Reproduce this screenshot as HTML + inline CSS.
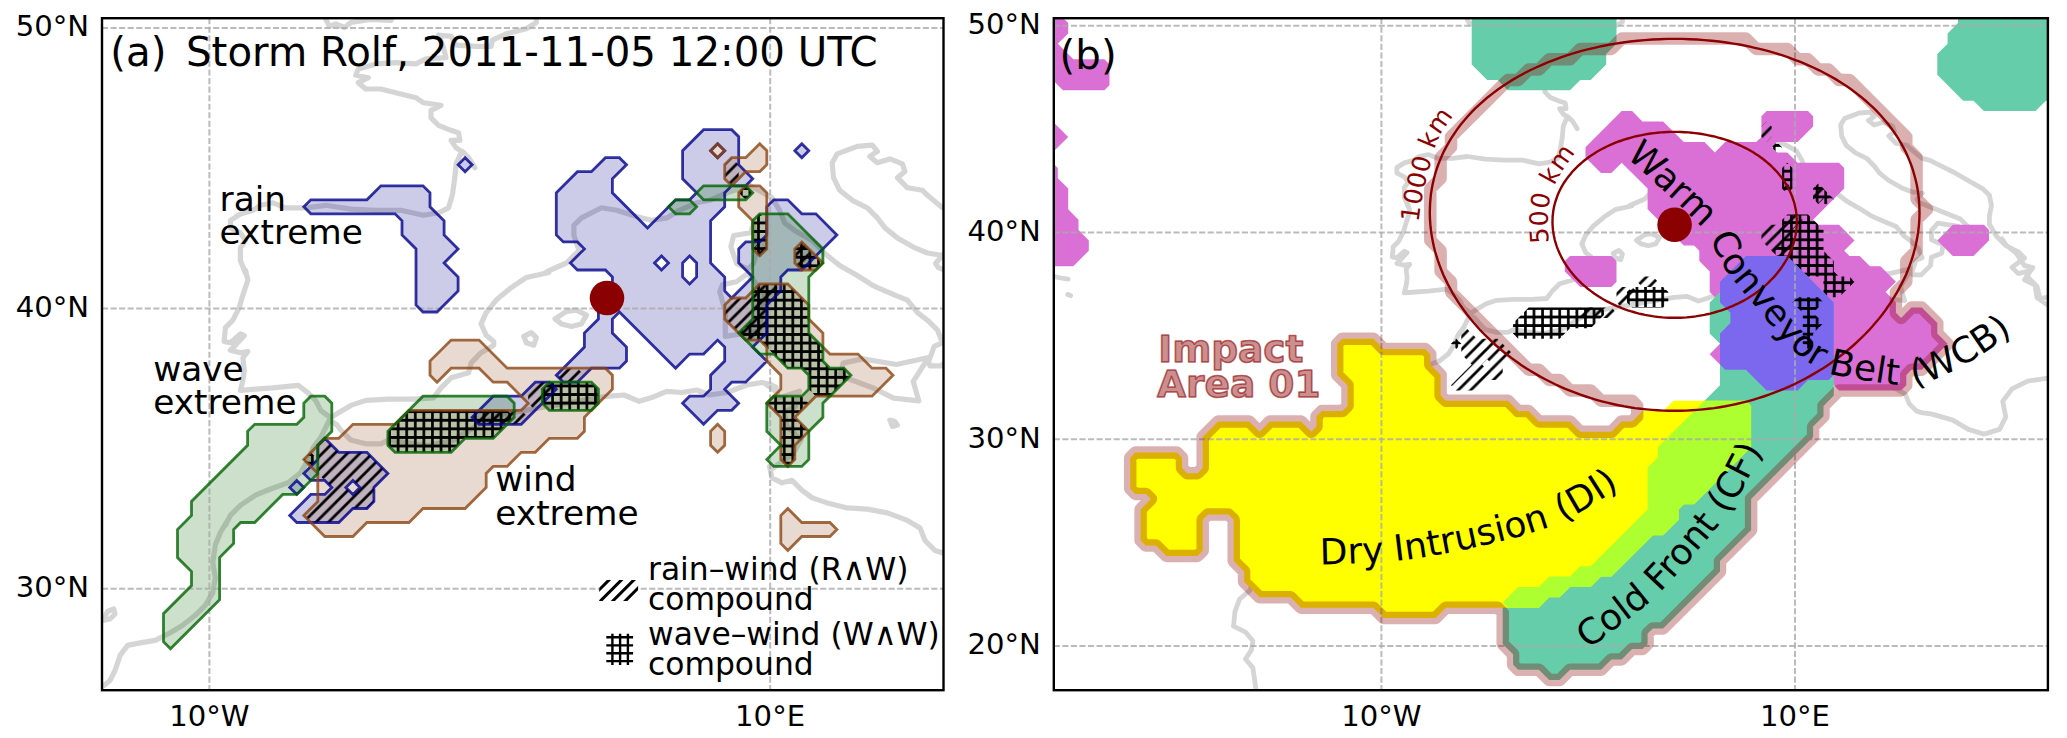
<!DOCTYPE html>
<html lang="en"><head><meta charset="utf-8"><title>Storm Rolf, 2011-11-05 12:00 UTC</title>
<style>
html,body{margin:0;padding:0;background:#fff;}
body{width:2067px;height:738px;overflow:hidden;}
svg{display:block;font-family:"DejaVu Sans", "Liberation Sans", sans-serif;}
.grid line{stroke:#aaa;stroke-opacity:.8;stroke-width:2;stroke-dasharray:6.1 2.45;fill:none}
.frame{fill:none;stroke:#000;stroke-width:2.4}
.tick{font-size:29.1px;fill:#000}
.coast{fill:none;stroke:#808080;stroke-opacity:.33;stroke-width:5.2;stroke-linejoin:round;stroke-linecap:round}

.title{font-size:40.3px;fill:#000}
.lab{font-size:34.35px;fill:#000}
.leg{font-size:31.35px;fill:#000}
.fillr{fill:#00008b;fill-opacity:.2;stroke:none;fill-rule:evenodd}
.fillw{fill:#8b4513;fill-opacity:.2;stroke:none;fill-rule:evenodd}
.fillv{fill:#006400;fill-opacity:.2;stroke:none;fill-rule:evenodd}
.liner{fill:none;stroke:#00008b;stroke-opacity:.8;stroke-width:2.8;stroke-linejoin:miter}
.linew{fill:none;stroke:#8b4513;stroke-opacity:.8;stroke-width:2.8;stroke-linejoin:miter}
.linev{fill:none;stroke:#006400;stroke-opacity:.8;stroke-width:2.8;stroke-linejoin:miter}
.hat{stroke:none;fill-rule:evenodd}
.legsym{stroke:#000;fill:none}

.coastb{stroke-width:4.8}
.wcb{fill:#da70d6;fill-rule:evenodd}
.cf{fill:#66cdaa;fill-rule:evenodd}
.di{fill:#ffff00;fill-rule:evenodd}
.wcbcf{fill:#7b68ee;fill-rule:evenodd}
.dicf{fill:#adff2f;fill-rule:evenodd}
.impact{fill:none;stroke:#8b0000;stroke-opacity:.31;stroke-width:12.5;stroke-linejoin:round}
.ring{fill:none;stroke:#8b0000;stroke-width:2.4}
.ringlab{font-size:25.3px;fill:#8b0000;letter-spacing:.4px}
.feat{font-size:36px;fill:#000}
.imp{font-size:37.5px;font-weight:bold;fill:#8b0000;fill-opacity:.45;stroke:#8b0000;stroke-opacity:.6;stroke-width:1.6;stroke-linejoin:round}
</style></head>
<body>
<svg width="2067" height="738" viewBox="0 0 2067 738">
<rect x="0" y="0" width="2067" height="738" fill="#fff"/>
<defs>
<clipPath id="clipA"><rect x="102.0" y="18.2" width="841.5" height="672.0"/></clipPath>
<clipPath id="clipB"><rect x="1053.8" y="18.2" width="994.1" height="672.0"/></clipPath>

<pattern id="hslash" patternUnits="userSpaceOnUse" width="12.5" height="12.5" x="0.7" y="0.0">
<path d="M-3.125,3.125L3.125,-3.125M0,12.5L12.5,0M9.375,15.625L15.625,9.375" stroke="#000" stroke-width="2.8" stroke-linecap="square"/>
</pattern>
<pattern id="hplus" patternUnits="userSpaceOnUse" width="8.58" height="8.58" x="-0.84" y="4.13">
<path d="M4.29,0V8.58M0,4.29H8.58" stroke="#000" stroke-width="2.65"/>
</pattern>
<pattern id="hplusB" patternUnits="userSpaceOnUse" width="8.58" height="8.58" x="2.45" y="3.85">
<path d="M4.29,0V8.58M0,4.29H8.58" stroke="#000" stroke-width="2.65"/>
</pattern>
<pattern id="hslashB" patternUnits="userSpaceOnUse" width="12.5" height="12.5" x="-1.6" y="0.0">
<path d="M-3.125,3.125L3.125,-3.125M0,12.5L12.5,0M9.375,15.625L15.625,9.375" stroke="#000" stroke-width="2.8" stroke-linecap="square"/>
</pattern>
<clipPath id="legslash"><rect x="599.2" y="579.9" width="38.9" height="21"/></clipPath>

<path id="pWCB" d="M1626.0,157.0C1632.8,163.2 1653.8,181.5 1667.0,194.0C1680.2,206.5 1695.2,219.3 1705.0,232.0C1714.8,244.7 1716.8,256.7 1726.0,270.0C1735.2,283.3 1748.8,298.7 1760.0,312.0C1771.2,325.3 1783.3,340.7 1793.0,350.0C1802.7,359.3 1811.0,363.8 1818.0,368.0C1825.0,372.2 1826.5,372.8 1835.0,375.0C1843.5,377.2 1857.8,379.3 1869.0,381.0C1880.2,382.7 1892.0,384.9 1902.0,385.0C1912.0,385.1 1917.2,385.7 1929.0,381.5C1940.8,377.3 1957.8,368.9 1973.0,360.0C1988.2,351.1 2006.8,337.5 2020.0,328.0C2033.2,318.5 2046.7,307.2 2052.0,303.0" fill="none"/>
<path id="pDI" d="M1320.2,564.5C1326.3,564.3 1343.9,564.0 1356.7,563.4C1369.5,562.8 1382.3,562.5 1397.0,560.9C1411.7,559.3 1429.3,556.4 1444.6,553.6C1459.8,550.8 1475.0,547.4 1488.5,544.2C1502.0,541.0 1514.4,537.9 1525.5,534.6C1536.6,531.3 1545.3,528.8 1555.3,524.6C1565.2,520.4 1574.7,515.4 1585.2,509.3C1595.8,503.2 1609.3,494.5 1618.6,488.3C1627.9,482.1 1637.3,474.7 1641.0,472.0" fill="none"/>
<path id="pCF" d="M1583.7,652.6C1584.7,651.9 1584.1,652.2 1589.7,648.1C1595.3,644.0 1607.0,635.4 1617.1,627.7C1627.2,620.0 1640.3,610.4 1650.1,601.7C1659.9,593.1 1667.2,585.0 1675.7,575.8C1684.2,566.5 1694.0,554.8 1701.3,546.2C1708.6,537.6 1712.9,533.2 1719.6,524.0C1726.3,514.8 1734.5,502.7 1741.5,490.7C1748.5,478.7 1756.8,461.9 1761.7,451.9C1766.6,441.9 1769.3,434.1 1770.8,430.5" fill="none"/>
<path id="p500" d="M1548.9,243.0C1548.7,239.8 1547.8,230.0 1547.8,223.8C1547.8,217.6 1547.8,211.4 1548.6,205.8C1549.4,200.2 1550.5,195.6 1552.4,190.4C1554.3,185.2 1557.1,180.1 1560.1,174.9C1563.1,169.8 1567.4,163.6 1570.4,159.5C1573.4,155.4 1576.7,152.0 1578.0,150.5" fill="none"/>
<path id="p1000" d="M1418.6,222.5C1419.0,219.3 1420.1,209.4 1421.2,203.2C1422.3,197.0 1423.5,191.6 1425.0,185.2C1426.5,178.8 1428.3,171.5 1430.2,164.6C1432.1,157.7 1434.0,150.0 1436.3,144.0C1438.6,138.0 1441.7,132.9 1444.3,128.6C1446.9,124.3 1450.7,119.8 1452.0,118.0" fill="none"/>

</defs>
<g id="panel-a">
<g clip-path="url(#clipA)">
<path class="coast" d="M321.6,11.2L329.4,26.3L335.7,23.8L344.5,27.5L350.8,22.5L370.8,19.5L390.9,20.5L394.5,11.2M536.1,11.2L536.3,22.5L526.3,28.8L506.2,33.8L492.4,40.1L491.2,46.3L476.1,46.3L456.1,45.1L451.1,36.3L438.5,35.1L443.5,47.6L446.0,57.6L426.0,58.9L415.9,63.9L395.9,62.6L375.8,63.9L358.3,68.9L355.8,75.2L368.3,77.7L358.3,82.7L365.8,89.0L380.8,89.0L400.9,94.0L415.9,97.7L423.5,102.8L441.0,105.3L431.0,110.3L431.0,117.8L438.5,125.3L451.1,130.3L458.6,132.9L459.8,140.4L451.1,140.4L456.1,147.9L462.3,151.7L461.1,152.7L456.1,163.9L454.8,177.7L452.3,195.3L448.5,207.8L438.5,212.8L423.5,215.3L400.9,210.3L375.8,210.3L350.8,209.1L325.7,205.3L305.6,207.8L285.6,207.8L273.0,202.8L260.5,205.3L253.0,210.3L240.4,214.1L230.4,220.4L230.4,227.9L240.4,232.9L245.4,240.4L240.4,247.9L240.4,260.5L245.4,273.0L245.4,270.0L247.9,280.0L242.9,295.1L239.2,307.6L232.9,320.2L225.4,327.7L224.1,341.5L230.4,342.7L240.4,333.9L244.2,335.7L235.4,345.2L230.4,350.2L240.4,352.7L247.9,351.5L242.9,357.8L244.2,370.3L242.9,380.3L240.4,390.4L255.5,389.1L273.0,387.9L285.6,386.6L298.1,385.3L308.1,392.9L315.6,400.4L320.7,410.4L330.7,417.9L338.2,412.9L350.8,405.4L365.8,400.4L388.4,399.1L413.4,399.1L433.5,397.9L441.0,387.9L451.1,377.8L468.6,372.8L471.1,362.8L481.1,352.7L493.7,345.2L493.7,341.5L486.2,335.2L481.1,323.9L486.2,312.6L496.2,300.1L511.2,287.6L526.3,277.5L548.8,272.5L546.4,271.8L566.4,263.0L579.0,250.5L573.9,235.4L573.9,225.4L581.5,217.9L601.5,207.8L616.6,210.3L636.6,216.6L651.7,220.4L666.7,217.9L679.3,210.3L696.8,202.8L709.4,200.3L726.9,192.8L749.5,185.3L772.0,197.8L779.6,210.3L784.6,222.9L794.6,230.4L812.2,240.4L827.2,255.5L839.7,265.5L857.3,275.5L872.3,285.1L877.4,287.6L894.9,295.1L907.4,300.1L917.5,312.6L927.5,320.2L937.5,330.2L942.5,342.7L934.2,346.3L928.6,361.7L930.0,365.9L941.2,365.9L953.9,353.3L955.3,342.0L969.3,336.4L970.7,325.2L955.3,318.2L955.3,305.6L963.7,295.8L991.7,300.0L994.5,309.8L1005.7,312.6L1008.5,304.2L994.5,290.2L966.5,279.0L938.4,267.7L935.6,263.5L942.6,255.1M462.3,151.4L468.6,157.7L474.9,167.7M942.5,255.5L927.5,253.0L915.0,247.9L897.4,237.9L884.9,227.9L877.4,217.9L867.3,207.8L852.3,200.3L839.7,190.3L833.5,177.7L832.2,162.7L837.2,153.9L857.3,146.4L872.3,145.1L877.4,151.4L869.8,156.4L877.4,162.7L889.9,158.9L902.4,163.9L904.9,171.5L897.4,177.7L907.4,187.8L922.5,190.3L927.5,195.3L942.5,207.8L952.5,210.3L974.9,221.5L986.1,227.1L1005.7,238.3L1025.4,249.5L1033.8,257.9L1036.6,271.9L1033.8,286.0L1033.8,297.2L1043.4,313.5L1056.0,326.1L1072.9,334.6L1081.4,343.0L1064.5,355.7L1072.9,364.2L1089.8,359.9L1081.4,372.6L1098.3,381.1L1102.5,398.0L1115.2,395.9M555.1,318.9L566.4,311.4L576.4,310.1L586.5,315.1L581.4,323.9L571.4,326.4L561.4,323.9L555.1,318.9M523.8,336.4L531.3,332.7L536.3,337.7L533.8,345.2L526.3,342.7L523.8,336.4M596.4,308.4L607.6,307.0L610.4,312.6L597.8,311.2L596.4,308.4M39.2,927.1L35.2,898.8L25.1,886.7L33.2,874.6L35.2,862.4L25.1,850.3L17.0,846.2L8.9,842.2L10.9,822.0L17.0,805.8L31.2,793.7L41.2,765.5L49.6,757.0L72.0,737.4L74.8,717.8L83.2,698.2L103.8,685.5L110.0,680.5L115.0,670.5L120.1,655.4L127.6,645.4L140.1,642.9L155.2,640.4L170.2,632.8L182.7,625.3L195.3,615.3L205.3,605.3L212.8,592.7L215.3,577.7L212.8,562.6L215.3,545.1L220.4,532.5L227.9,520.0L225.4,525.3L230.4,515.3L240.4,505.3L255.5,495.2L270.5,489.0L288.1,482.7L300.6,472.7L308.1,460.1L313.1,447.6L320.7,437.6L325.7,427.5L329.4,420.0L337.0,425.0L340.7,430.0L350.8,440.1L365.8,443.8L380.8,443.8L388.4,440.1L428.1,445.8L453.3,440.2L475.8,426.2L498.2,415.0L606.5,396.3L624.1,395.0L639.1,401.3L651.7,397.6L666.7,391.3L681.8,392.5L696.8,390.0L709.4,395.0L726.9,392.5L747.0,385.0L762.0,382.5L772.0,385.0L777.1,392.5L766.0,384.1L775.8,386.9L778.6,398.1L799.6,391.1L795.4,406.5L784.2,412.1L787.0,426.2L801.0,440.2L792.6,454.2L773.0,468.2L769.5,466.5L772.0,477.8L782.1,482.8L792.1,480.3L802.1,490.3L812.2,497.9L827.2,502.9L847.3,507.9L867.3,509.1L887.4,512.9L907.4,520.4L920.0,527.9L925.0,540.5L935.0,550.5L943.1,553.0L954.6,554.3L984.2,562.8L1005.3,575.4L1026.5,581.8L1047.6,575.4L1056.0,558.5L1051.8,537.4L1064.5,520.5L1085.6,509.9L1115.2,505.7M103.8,619.0L107.5,611.5L113.8,609.0L115.0,614.0L110.0,619.0L103.8,620.3M889.9,420.1L894.9,421.4L897.4,425.1L892.4,426.4L889.9,420.1M753.4,224.3L757.6,249.5L753.4,263.5L747.8,269.1L736.6,263.5L730.9,246.7L733.7,235.5L750.6,232.7L753.4,224.3M747.8,273.3L764.6,294.4L759.0,330.8L742.2,333.6L725.3,336.4L725.3,311.2L719.7,291.6L722.5,284.6L736.6,281.8L747.8,273.3M928.6,357.5L913.2,381.3L918.8,400.9L893.6,398.1L873.9,388.3L840.3,375.7L843.1,363.1L862.7,358.9L896.4,364.5L928.6,357.5M-235.0,367.8L-225.2,370.1L-215.4,371.8M-216.0,392.5L-212.0,393.9M1050.6,316.8L1056.2,325.2L1070.2,336.4L1081.4,353.3L1092.7,356.1L1084.2,367.3L1095.5,378.5L1098.3,396.7L1112.3,406.5L1123.5,406.5"/>
<path class="fillr" d="M703.6,129.7L731.7,129.7L738.7,136.7L738.7,164.7L752.7,178.8L745.7,185.8L731.7,185.8L724.7,192.8L724.7,206.8L710.6,220.8L710.6,262.9L724.7,277.0L724.7,291.0L731.7,298.0L752.7,277.0L738.7,262.9L738.7,248.9L745.7,241.9L759.7,241.9L766.8,234.9L766.8,206.8L773.8,199.8L787.8,199.8L801.8,213.8L815.9,213.8L836.9,234.9L801.8,270.0L787.8,270.0L780.8,277.0L780.8,291.0L766.8,305.0L766.8,333.1L752.7,347.1L766.8,361.1L745.7,382.2L731.7,382.2L724.7,389.2L738.7,403.2L731.7,410.3L717.6,410.3L703.6,424.3L682.6,403.2L689.6,396.2L703.6,396.2L710.6,389.2L710.6,375.2L724.7,361.1L724.7,347.1L717.6,340.1L703.6,354.1L689.6,354.1L675.6,368.2L619.4,312.0L612.4,319.1L612.4,333.1L626.5,347.1L626.5,361.1L619.4,368.2L591.4,368.2L577.4,382.2L563.3,382.2L556.3,375.2L584.4,347.1L584.4,333.1L598.4,319.1L598.4,305.0L612.4,291.0L612.4,277.0L605.4,270.0L577.4,270.0L570.3,262.9L584.4,248.9L577.4,241.9L563.3,241.9L556.3,234.9L556.3,192.8L577.4,171.7L591.4,171.7L605.4,157.7L619.4,157.7L626.5,164.7L612.4,178.8L612.4,192.8L647.5,227.9L675.6,199.8L689.6,199.8L696.6,192.8L682.6,178.8L682.6,150.7ZM710.6,150.7L717.6,143.7L724.7,150.7L717.6,157.7ZM794.8,150.7L801.8,143.7L808.8,150.7L801.8,157.7ZM458.1,164.7L465.1,157.7L472.1,164.7L465.1,171.7ZM380.9,185.8L423.0,185.8L430.0,192.8L430.0,206.8L444.1,220.8L444.1,234.9L458.1,248.9L444.1,262.9L458.1,277.0L458.1,291.0L437.0,312.0L423.0,312.0L416.0,305.0L416.0,248.9L402.0,234.9L402.0,220.8L395.0,213.8L310.8,213.8L303.8,206.8L310.8,199.8L366.9,199.8ZM654.5,262.9L661.5,255.9L668.5,262.9L661.5,270.0ZM682.6,262.9L689.6,255.9L696.6,262.9L696.6,277.0L689.6,284.0L682.6,277.0ZM535.3,382.2L549.3,382.2L556.3,389.2L521.2,424.3L479.1,424.3L472.1,417.3L493.2,396.2L521.2,396.2ZM317.8,445.3L324.8,438.3L338.8,452.3L366.9,452.3L387.9,473.4L373.9,487.4L373.9,501.4L366.9,508.5L352.9,508.5L338.8,522.5L296.8,522.5L289.7,515.5L310.8,494.4L324.8,494.4L331.8,487.4L324.8,480.4L310.8,480.4L303.8,473.4L317.8,459.4ZM289.7,487.4L296.8,480.4L303.8,487.4L296.8,494.4ZM345.9,487.4L352.9,480.4L359.9,487.4L352.9,494.4Z"/>
<path class="fillw" d="M710.6,150.7L717.6,143.7L724.7,150.7L717.6,157.7ZM759.7,143.7L766.8,150.7L766.8,164.7L759.7,171.7L745.7,171.7L731.7,185.8L724.7,178.8L724.7,164.7L731.7,157.7L745.7,157.7ZM738.7,192.8L745.7,185.8L759.7,185.8L766.8,192.8L766.8,248.9L759.7,255.9L752.7,248.9L752.7,220.8L738.7,206.8ZM794.8,248.9L801.8,241.9L822.9,262.9L815.9,270.0L801.8,270.0L794.8,262.9ZM759.7,284.0L787.8,284.0L808.8,305.0L808.8,319.1L822.9,333.1L822.9,347.1L829.9,354.1L858.0,354.1L872.0,368.2L886.0,368.2L893.0,375.2L872.0,396.2L815.9,396.2L794.8,417.3L808.8,431.3L794.8,445.3L794.8,459.4L787.8,466.4L780.8,459.4L780.8,417.3L766.8,403.2L780.8,389.2L780.8,375.2L766.8,361.1L766.8,347.1L759.7,340.1L745.7,340.1L724.7,319.1L724.7,305.0L731.7,298.0L745.7,298.0ZM451.1,340.1L479.1,340.1L507.2,368.2L605.4,368.2L612.4,375.2L612.4,389.2L584.4,417.3L584.4,431.3L577.4,438.3L549.3,438.3L535.3,452.3L521.2,452.3L507.2,466.4L493.2,466.4L486.2,473.4L486.2,487.4L465.1,508.5L423.0,508.5L409.0,522.5L366.9,522.5L352.9,536.5L324.8,536.5L303.8,515.5L317.8,501.4L317.8,473.4L303.8,459.4L324.8,438.3L338.8,438.3L352.9,424.3L395.0,424.3L409.0,410.3L521.2,410.3L528.2,403.2L507.2,382.2L493.2,382.2L479.1,368.2L451.1,368.2L437.0,382.2L430.0,375.2L430.0,361.1ZM710.6,431.3L717.6,424.3L724.7,431.3L724.7,445.3L717.6,452.3L710.6,445.3ZM780.8,515.5L787.8,508.5L801.8,522.5L829.9,522.5L836.9,529.5L829.9,536.5L801.8,536.5L787.8,550.6L780.8,543.5Z"/>
<path class="fillv" d="M696.6,192.8L703.6,185.8L745.7,185.8L752.7,192.8L745.7,199.8L703.6,199.8ZM668.5,206.8L675.6,199.8L689.6,199.8L696.6,206.8L689.6,213.8L675.6,213.8ZM752.7,220.8L759.7,213.8L787.8,213.8L822.9,248.9L822.9,262.9L808.8,277.0L808.8,333.1L822.9,347.1L822.9,361.1L829.9,368.2L843.9,368.2L850.9,375.2L822.9,403.2L822.9,417.3L808.8,431.3L808.8,459.4L801.8,466.4L773.8,466.4L766.8,459.4L780.8,445.3L766.8,431.3L766.8,403.2L773.8,396.2L801.8,396.2L808.8,389.2L808.8,375.2L801.8,368.2L787.8,368.2L773.8,354.1L759.7,354.1L738.7,333.1L752.7,319.1ZM542.3,389.2L549.3,382.2L591.4,382.2L598.4,389.2L598.4,403.2L591.4,410.3L549.3,410.3L542.3,403.2ZM303.8,403.2L310.8,396.2L324.8,396.2L331.8,403.2L331.8,431.3L317.8,445.3L317.8,473.4L296.8,494.4L282.7,494.4L254.7,522.5L240.6,522.5L233.6,529.5L233.6,543.5L219.6,557.6L219.6,599.7L170.5,648.8L163.5,641.7L163.5,613.7L191.5,585.6L191.5,571.6L177.5,557.6L177.5,529.5L191.5,515.5L191.5,501.4L247.6,445.3L247.6,431.3L254.7,424.3L296.8,424.3L303.8,417.3ZM423.0,396.2L507.2,396.2L514.2,403.2L514.2,417.3L493.2,438.3L465.1,438.3L451.1,452.3L395.0,452.3L387.9,445.3L387.9,431.3Z"/>
<g class="grid"><line x1="209.4" y1="18.2" x2="209.4" y2="690.2"/><line x1="770.2" y1="18.2" x2="770.2" y2="690.2"/><line x1="102.0" y1="588.8" x2="943.5" y2="588.8"/><line x1="102.0" y1="308.4" x2="943.5" y2="308.4"/><line x1="102.0" y1="28.0" x2="943.5" y2="28.0"/></g>
<path class="hat" fill="url(#hslash)" d="M724.7,164.7L731.7,157.7L738.7,164.7L738.7,178.8L731.7,185.8L724.7,178.8ZM752.7,248.9L759.7,241.9L766.8,248.9L759.7,255.9ZM794.8,248.9L801.8,241.9L808.8,248.9L808.8,262.9L801.8,270.0L794.8,262.9ZM759.7,284.0L773.8,284.0L780.8,291.0L766.8,305.0L766.8,333.1L759.7,340.1L745.7,340.1L724.7,319.1L724.7,305.0L731.7,298.0L745.7,298.0ZM556.3,375.2L563.3,368.2L577.4,368.2L584.4,375.2L577.4,382.2L563.3,382.2ZM528.2,389.2L535.3,382.2L549.3,382.2L556.3,389.2L535.3,410.3L528.2,403.2ZM472.1,417.3L479.1,410.3L521.2,410.3L528.2,417.3L521.2,424.3L479.1,424.3ZM317.8,445.3L324.8,438.3L338.8,452.3L366.9,452.3L387.9,473.4L373.9,487.4L373.9,501.4L366.9,508.5L352.9,508.5L338.8,522.5L310.8,522.5L303.8,515.5L331.8,487.4L317.8,473.4ZM345.9,487.4L352.9,480.4L359.9,487.4L352.9,494.4Z"/>
<path class="hat" fill="url(#hplus)" d="M738.7,192.8L745.7,185.8L752.7,192.8L745.7,199.8ZM752.7,220.8L759.7,213.8L766.8,220.8L766.8,248.9L759.7,255.9L752.7,248.9ZM794.8,248.9L801.8,241.9L822.9,262.9L815.9,270.0L801.8,270.0L794.8,262.9ZM752.7,291.0L759.7,284.0L787.8,284.0L808.8,305.0L808.8,333.1L822.9,347.1L822.9,361.1L829.9,368.2L843.9,368.2L850.9,375.2L829.9,396.2L815.9,396.2L808.8,389.2L808.8,375.2L801.8,368.2L787.8,368.2L759.7,340.1L745.7,340.1L738.7,333.1L752.7,319.1ZM542.3,389.2L549.3,382.2L591.4,382.2L598.4,389.2L598.4,403.2L591.4,410.3L549.3,410.3L542.3,403.2ZM766.8,403.2L773.8,396.2L801.8,396.2L808.8,403.2L794.8,417.3L808.8,431.3L794.8,445.3L794.8,459.4L787.8,466.4L780.8,459.4L780.8,417.3ZM409.0,410.3L507.2,410.3L514.2,417.3L493.2,438.3L465.1,438.3L451.1,452.3L395.0,452.3L387.9,445.3L387.9,431.3ZM303.8,459.4L310.8,452.3L317.8,459.4L310.8,466.4Z"/>
<path class="liner" d="M703.6,129.7L731.7,129.7L738.7,136.7L738.7,164.7L752.7,178.8L745.7,185.8L731.7,185.8L724.7,192.8L724.7,206.8L710.6,220.8L710.6,262.9L724.7,277.0L724.7,291.0L731.7,298.0L752.7,277.0L738.7,262.9L738.7,248.9L745.7,241.9L759.7,241.9L766.8,234.9L766.8,206.8L773.8,199.8L787.8,199.8L801.8,213.8L815.9,213.8L836.9,234.9L801.8,270.0L787.8,270.0L780.8,277.0L780.8,291.0L766.8,305.0L766.8,333.1L752.7,347.1L766.8,361.1L745.7,382.2L731.7,382.2L724.7,389.2L738.7,403.2L731.7,410.3L717.6,410.3L703.6,424.3L682.6,403.2L689.6,396.2L703.6,396.2L710.6,389.2L710.6,375.2L724.7,361.1L724.7,347.1L717.6,340.1L703.6,354.1L689.6,354.1L675.6,368.2L619.4,312.0L612.4,319.1L612.4,333.1L626.5,347.1L626.5,361.1L619.4,368.2L591.4,368.2L577.4,382.2L563.3,382.2L556.3,375.2L584.4,347.1L584.4,333.1L598.4,319.1L598.4,305.0L612.4,291.0L612.4,277.0L605.4,270.0L577.4,270.0L570.3,262.9L584.4,248.9L577.4,241.9L563.3,241.9L556.3,234.9L556.3,192.8L577.4,171.7L591.4,171.7L605.4,157.7L619.4,157.7L626.5,164.7L612.4,178.8L612.4,192.8L647.5,227.9L675.6,199.8L689.6,199.8L696.6,192.8L682.6,178.8L682.6,150.7ZM710.6,150.7L717.6,143.7L724.7,150.7L717.6,157.7ZM794.8,150.7L801.8,143.7L808.8,150.7L801.8,157.7ZM458.1,164.7L465.1,157.7L472.1,164.7L465.1,171.7ZM380.9,185.8L423.0,185.8L430.0,192.8L430.0,206.8L444.1,220.8L444.1,234.9L458.1,248.9L444.1,262.9L458.1,277.0L458.1,291.0L437.0,312.0L423.0,312.0L416.0,305.0L416.0,248.9L402.0,234.9L402.0,220.8L395.0,213.8L310.8,213.8L303.8,206.8L310.8,199.8L366.9,199.8ZM654.5,262.9L661.5,255.9L668.5,262.9L661.5,270.0ZM682.6,262.9L689.6,255.9L696.6,262.9L696.6,277.0L689.6,284.0L682.6,277.0ZM535.3,382.2L549.3,382.2L556.3,389.2L521.2,424.3L479.1,424.3L472.1,417.3L493.2,396.2L521.2,396.2ZM317.8,445.3L324.8,438.3L338.8,452.3L366.9,452.3L387.9,473.4L373.9,487.4L373.9,501.4L366.9,508.5L352.9,508.5L338.8,522.5L296.8,522.5L289.7,515.5L310.8,494.4L324.8,494.4L331.8,487.4L324.8,480.4L310.8,480.4L303.8,473.4L317.8,459.4ZM289.7,487.4L296.8,480.4L303.8,487.4L296.8,494.4ZM345.9,487.4L352.9,480.4L359.9,487.4L352.9,494.4Z"/>
<path class="linew" d="M710.6,150.7L717.6,143.7L724.7,150.7L717.6,157.7ZM759.7,143.7L766.8,150.7L766.8,164.7L759.7,171.7L745.7,171.7L731.7,185.8L724.7,178.8L724.7,164.7L731.7,157.7L745.7,157.7ZM738.7,192.8L745.7,185.8L759.7,185.8L766.8,192.8L766.8,248.9L759.7,255.9L752.7,248.9L752.7,220.8L738.7,206.8ZM794.8,248.9L801.8,241.9L822.9,262.9L815.9,270.0L801.8,270.0L794.8,262.9ZM759.7,284.0L787.8,284.0L808.8,305.0L808.8,319.1L822.9,333.1L822.9,347.1L829.9,354.1L858.0,354.1L872.0,368.2L886.0,368.2L893.0,375.2L872.0,396.2L815.9,396.2L794.8,417.3L808.8,431.3L794.8,445.3L794.8,459.4L787.8,466.4L780.8,459.4L780.8,417.3L766.8,403.2L780.8,389.2L780.8,375.2L766.8,361.1L766.8,347.1L759.7,340.1L745.7,340.1L724.7,319.1L724.7,305.0L731.7,298.0L745.7,298.0ZM451.1,340.1L479.1,340.1L507.2,368.2L605.4,368.2L612.4,375.2L612.4,389.2L584.4,417.3L584.4,431.3L577.4,438.3L549.3,438.3L535.3,452.3L521.2,452.3L507.2,466.4L493.2,466.4L486.2,473.4L486.2,487.4L465.1,508.5L423.0,508.5L409.0,522.5L366.9,522.5L352.9,536.5L324.8,536.5L303.8,515.5L317.8,501.4L317.8,473.4L303.8,459.4L324.8,438.3L338.8,438.3L352.9,424.3L395.0,424.3L409.0,410.3L521.2,410.3L528.2,403.2L507.2,382.2L493.2,382.2L479.1,368.2L451.1,368.2L437.0,382.2L430.0,375.2L430.0,361.1ZM710.6,431.3L717.6,424.3L724.7,431.3L724.7,445.3L717.6,452.3L710.6,445.3ZM780.8,515.5L787.8,508.5L801.8,522.5L829.9,522.5L836.9,529.5L829.9,536.5L801.8,536.5L787.8,550.6L780.8,543.5Z"/>
<path class="linev" d="M696.6,192.8L703.6,185.8L745.7,185.8L752.7,192.8L745.7,199.8L703.6,199.8ZM668.5,206.8L675.6,199.8L689.6,199.8L696.6,206.8L689.6,213.8L675.6,213.8ZM752.7,220.8L759.7,213.8L787.8,213.8L822.9,248.9L822.9,262.9L808.8,277.0L808.8,333.1L822.9,347.1L822.9,361.1L829.9,368.2L843.9,368.2L850.9,375.2L822.9,403.2L822.9,417.3L808.8,431.3L808.8,459.4L801.8,466.4L773.8,466.4L766.8,459.4L780.8,445.3L766.8,431.3L766.8,403.2L773.8,396.2L801.8,396.2L808.8,389.2L808.8,375.2L801.8,368.2L787.8,368.2L773.8,354.1L759.7,354.1L738.7,333.1L752.7,319.1ZM542.3,389.2L549.3,382.2L591.4,382.2L598.4,389.2L598.4,403.2L591.4,410.3L549.3,410.3L542.3,403.2ZM303.8,403.2L310.8,396.2L324.8,396.2L331.8,403.2L331.8,431.3L317.8,445.3L317.8,473.4L296.8,494.4L282.7,494.4L254.7,522.5L240.6,522.5L233.6,529.5L233.6,543.5L219.6,557.6L219.6,599.7L170.5,648.8L163.5,641.7L163.5,613.7L191.5,585.6L191.5,571.6L177.5,557.6L177.5,529.5L191.5,515.5L191.5,501.4L247.6,445.3L247.6,431.3L254.7,424.3L296.8,424.3L303.8,417.3ZM423.0,396.2L507.2,396.2L514.2,403.2L514.2,417.3L493.2,438.3L465.1,438.3L451.1,452.3L395.0,452.3L387.9,445.3L387.9,431.3Z"/>
<circle cx="607" cy="298" r="17.3" fill="#8b0000"/>
<text class="title" x="110.3" y="66">(a)</text>
<text class="title" x="186" y="66">Storm Rolf, 2011-11-05 12:00 UTC</text>
<text class="lab" x="219.6" y="211">rain</text>
<text class="lab" x="219.6" y="244.3">extreme</text>
<text class="lab" x="153.2" y="381.1">wave</text>
<text class="lab" x="153.2" y="413.8">extreme</text>
<text class="lab" x="495.3" y="491.4">wind</text>
<text class="lab" x="495.3" y="524.9">extreme</text>
<rect x="599.2" y="579.9" width="38.9" height="21" fill="#fff"/>
<g clip-path="url(#legslash)"><path class="legsym" stroke-width="3" d="M580,609L620,569M592.4,609L632.4,569M604.8,609L644.8,569M617.2,609L657.2,569"/></g>
<path class="legsym" stroke-width="2.4" d="M612.4,633.7V664.9M620.1,633.7V664.9M627.9,633.7V664.9M606.3,637.3H633.1M606.3,645.4H633.1M606.3,653.3H633.1M606.3,661.1H633.1"/>
<text class="leg" x="648" y="580.4">rain–wind (R∧W)</text>
<text class="leg" x="648" y="610.3">compound</text>
<text class="leg" x="648" y="644.8">wave–wind (W∧W)</text>
<text class="leg" x="648" y="674.8">compound</text>

</g>
<rect class="frame" x="102.0" y="18.2" width="841.5" height="672.0"/>
<text class="tick" text-anchor="end" x="89.1" y="36.2">50°N</text><text class="tick" text-anchor="end" x="89.1" y="316.6">40°N</text><text class="tick" text-anchor="end" x="89.1" y="597.0">30°N</text><text class="tick" text-anchor="middle" x="209.3" y="726.4">10°W</text><text class="tick" text-anchor="middle" x="770.1" y="726.4">10°E</text>
</g>
<g id="panel-b">
<g clip-path="url(#clipB)">
<path class="coast coastb" d="M1464.1,13.3L1469.9,24.4L1474.6,22.6L1481.0,25.4L1485.6,21.7L1500.4,19.4L1515.2,20.2L1517.9,13.3M1622.3,13.3L1622.5,21.7L1615.1,26.3L1600.3,30.0L1590.1,34.6L1589.2,39.2L1578.1,39.2L1563.3,38.3L1559.6,31.8L1550.4,30.9L1554.1,40.2L1555.9,47.6L1541.1,48.5L1533.7,52.2L1518.9,51.2L1504.1,52.2L1491.2,55.9L1489.3,60.5L1498.6,62.3L1491.2,66.0L1496.7,70.7L1507.8,70.7L1522.6,74.4L1533.7,77.1L1539.3,80.8L1552.2,82.7L1544.8,86.4L1544.8,91.9L1550.4,97.5L1559.6,101.2L1565.2,103.0L1566.1,108.6L1559.6,108.6L1563.3,114.1L1567.9,116.9L1567.0,117.6L1563.3,126.0L1562.4,136.1L1560.5,149.1L1557.8,158.3L1550.4,162.0L1539.3,163.9L1522.6,160.2L1504.1,160.2L1485.6,159.2L1467.2,156.5L1452.4,158.3L1437.6,158.3L1428.3,154.6L1419.1,156.5L1413.5,160.2L1404.3,162.9L1396.9,167.6L1396.9,173.1L1404.3,176.8L1408.0,182.4L1404.3,187.9L1404.3,197.2L1408.0,206.4L1408.0,204.2L1409.8,211.6L1406.1,222.7L1403.4,231.9L1398.7,241.2L1393.2,246.7L1392.3,256.9L1396.9,257.8L1404.3,251.3L1407.1,252.6L1400.6,259.7L1396.9,263.4L1404.3,265.2L1409.8,264.3L1406.1,268.9L1407.1,278.2L1406.1,285.6L1404.3,292.9L1415.4,292.0L1428.3,291.1L1437.6,290.2L1446.8,289.2L1454.2,294.8L1459.8,300.3L1463.5,307.7L1470.9,313.3L1476.4,309.6L1485.6,304.0L1496.7,300.3L1513.4,299.4L1531.9,299.4L1546.7,298.5L1552.2,291.1L1559.6,283.7L1572.6,280.0L1574.4,272.6L1581.8,265.2L1591.1,259.7L1591.1,256.9L1585.5,252.3L1581.8,243.9L1585.5,235.6L1592.9,226.4L1604.0,217.1L1615.1,209.7L1631.7,206.0L1629.9,205.5L1644.7,199.0L1654.0,189.8L1650.3,178.7L1650.3,171.3L1655.8,165.7L1670.6,158.3L1681.7,160.2L1696.5,164.8L1707.6,167.6L1718.7,165.7L1727.9,160.2L1740.9,154.6L1750.1,152.8L1763.1,147.2L1779.7,141.7L1796.4,150.9L1801.9,160.2L1805.6,169.4L1813.0,175.0L1825.9,182.4L1837.0,193.5L1846.3,200.9L1859.2,208.3L1870.3,215.3L1874.0,217.1L1887.0,222.7L1896.2,226.4L1903.6,235.6L1911.0,241.2L1918.4,248.6L1922.1,257.8L1916.0,260.4L1911.8,271.8L1912.9,274.9L1921.1,274.9L1930.5,265.6L1931.5,257.3L1941.8,253.2L1942.9,244.9L1931.5,239.7L1931.5,230.4L1937.7,223.2L1958.4,226.3L1960.4,233.5L1968.7,235.6L1970.8,229.4L1960.4,219.1L1939.8,210.8L1919.1,202.5L1917.0,199.4L1922.2,193.2M1567.9,116.7L1572.6,121.3L1577.2,128.7M1922.1,193.5L1911.0,191.6L1901.8,187.9L1888.8,180.5L1879.6,173.1L1874.0,165.7L1866.6,158.3L1855.5,152.8L1846.3,145.4L1841.7,136.1L1840.7,125.0L1844.4,118.6L1859.2,113.0L1870.3,112.1L1874.0,116.7L1868.5,120.4L1874.0,125.0L1883.3,122.3L1892.5,126.0L1894.4,131.5L1888.8,136.1L1896.2,143.5L1907.3,145.4L1911.0,149.1L1922.1,158.3L1929.4,160.1L1946.0,168.4L1954.2,172.5L1968.7,180.8L1983.2,189.1L1989.4,195.3L1991.5,205.6L1989.4,216.0L1989.4,224.2L1996.5,236.2L2005.8,245.6L2018.3,251.8L2024.5,258.0L2012.0,267.4L2018.3,273.6L2030.7,270.5L2024.5,279.9L2037.0,286.1L2040.1,298.6L2049.4,297.0M1636.4,240.2L1644.7,234.7L1652.1,233.8L1659.5,237.5L1655.8,243.9L1648.4,245.8L1641.0,243.9L1636.4,240.2M1613.3,253.2L1618.8,250.4L1622.5,254.1L1620.7,259.7L1615.1,257.8L1613.3,253.2M1666.8,232.5L1675.1,231.5L1677.1,235.6L1667.8,234.6L1666.8,232.5M1255.9,688.8L1252.9,667.9L1245.5,659.0L1251.4,650.0L1252.9,641.1L1245.5,632.1L1239.5,629.2L1233.5,626.2L1235.0,611.3L1239.5,599.3L1249.9,590.4L1257.3,569.6L1263.5,563.4L1280.1,548.9L1282.1,534.4L1288.3,520.0L1303.5,510.6L1308.1,506.9L1311.8,499.5L1315.5,488.4L1321.1,481.0L1330.3,479.2L1341.4,477.3L1352.5,471.8L1361.7,466.2L1371.0,458.8L1378.4,451.4L1383.9,442.2L1385.8,431.1L1383.9,420.0L1385.8,407.1L1389.5,397.8L1395.0,388.6L1393.2,392.5L1396.9,385.1L1404.3,377.7L1415.4,370.3L1426.5,365.7L1439.4,361.0L1448.7,353.6L1454.2,344.4L1457.9,335.1L1463.5,327.8L1467.2,320.4L1469.9,314.8L1475.5,318.5L1478.3,322.2L1485.6,329.6L1496.7,332.4L1507.8,332.4L1513.4,329.6L1542.7,333.8L1561.3,329.7L1577.9,319.4L1594.4,311.1L1674.3,297.3L1687.2,296.4L1698.3,301.0L1707.6,298.3L1718.7,293.6L1729.8,294.6L1740.9,292.7L1750.1,296.4L1763.1,294.6L1777.9,289.0L1789.0,287.2L1796.4,289.0L1800.1,294.6L1791.9,288.3L1799.1,290.4L1801.2,298.7L1816.7,293.5L1813.6,304.9L1805.3,309.0L1807.4,319.4L1817.7,329.7L1811.5,340.0L1797.1,350.4L1794.5,349.1L1796.4,357.4L1803.8,361.1L1811.2,359.3L1818.5,366.7L1825.9,372.2L1837.0,375.9L1851.8,379.6L1866.6,380.5L1881.4,383.3L1896.2,388.9L1905.5,394.4L1909.2,403.7L1916.6,411.1L1922.5,412.9L1931.0,413.9L1952.8,420.1L1968.4,429.4L1984.0,434.1L1999.6,429.4L2005.8,417.0L2002.7,401.4L2012.0,388.9L2027.6,381.1L2049.4,378.0M1303.5,461.6L1306.3,456.1L1310.9,454.2L1311.8,457.9L1308.1,461.6L1303.5,462.5M1883.3,314.9L1887.0,315.8L1888.8,318.6L1885.1,319.5L1883.3,314.9M1782.6,170.5L1785.7,189.1L1782.6,199.4L1778.5,203.5L1770.2,199.4L1766.0,187.0L1768.1,178.7L1780.5,176.7L1782.6,170.5M1778.5,206.7L1790.9,222.2L1786.7,249.0L1774.3,251.1L1761.9,253.2L1761.9,234.6L1757.8,220.1L1759.8,214.9L1770.2,212.9L1778.5,206.7M1911.8,268.7L1900.5,286.3L1904.6,300.7L1886.0,298.7L1871.5,291.4L1846.7,282.1L1848.8,272.8L1863.2,269.7L1888.1,273.9L1911.8,268.7M1053.6,276.3L1060.9,278.0L1068.1,279.2M1067.7,294.5L1070.6,295.6M2001.8,238.7L2005.9,244.9L2016.3,253.2L2024.5,265.6L2032.8,267.7L2026.6,275.9L2034.9,284.2L2037.0,297.6L2047.3,304.9L2055.6,304.9"/>
<path class="wcb" d="M1047.5,23.1L1052.6,17.9L1063.0,17.9L1068.2,23.1L1068.2,33.4L1057.8,43.8L1073.3,59.3L1104.4,59.3L1109.5,64.5L1109.5,85.2L1104.4,90.3L1063.0,90.3L1047.5,74.8ZM1621.7,111.0L1632.1,111.0L1642.4,121.4L1663.1,121.4L1683.8,142.1L1704.5,142.1L1714.8,152.4L1725.2,142.1L1756.2,142.1L1761.4,136.9L1761.4,116.2L1766.6,111.0L1808.0,111.0L1813.1,116.2L1813.1,126.5L1797.6,142.1L1776.9,142.1L1771.7,147.2L1776.9,152.4L1787.3,152.4L1797.6,162.8L1839.0,162.8L1844.2,167.9L1844.2,188.6L1813.1,219.7L1818.3,224.8L1839.0,224.8L1854.5,240.4L1844.2,250.7L1849.4,255.9L1859.7,255.9L1870.0,266.2L1880.4,266.2L1895.9,281.7L1885.6,292.1L1895.9,302.4L1895.9,312.8L1901.1,318.0L1911.4,307.6L1921.8,307.6L1937.3,323.1L1937.3,333.5L1947.6,343.8L1921.8,369.7L1911.4,369.7L1906.3,374.9L1906.3,385.2L1901.1,390.4L1839.0,390.4L1828.7,380.0L1808.0,380.0L1797.6,390.4L1766.6,390.4L1745.9,369.7L1725.2,369.7L1709.7,354.2L1720.0,343.8L1720.0,333.5L1730.4,323.1L1730.4,312.8L1709.7,292.1L1709.7,271.4L1699.3,261.1L1699.3,250.7L1694.1,245.5L1683.8,245.5L1647.6,209.3L1647.6,188.6L1621.7,162.8L1611.4,173.1L1601.0,173.1L1585.5,157.6L1585.5,147.2ZM1047.5,126.5L1052.6,121.4L1068.2,136.9L1052.6,152.4L1047.5,147.2ZM1047.5,167.9L1052.6,162.8L1057.8,167.9L1057.8,178.3L1068.2,188.6L1068.2,209.3L1078.5,219.7L1078.5,230.0L1088.8,240.4L1088.8,250.7L1073.3,266.2L1052.6,266.2L1047.5,261.1ZM1952.8,224.8L1983.9,224.8L1989.0,230.0L1989.0,240.4L1973.5,255.9L1952.8,255.9L1937.3,240.4ZM1564.8,261.1L1570.0,255.9L1611.4,255.9L1616.5,261.1L1616.5,281.7L1611.4,286.9L1580.3,286.9L1564.8,271.4Z"/>
<path class="cf" d="M1471.7,12.7L1476.9,7.5L1611.4,7.5L1616.5,12.7L1616.5,43.8L1606.2,54.1L1606.2,64.5L1590.7,80.0L1580.3,80.0L1570.0,90.3L1507.9,90.3L1497.6,80.0L1487.2,80.0L1471.7,64.5ZM1958.0,12.7L1963.2,7.5L2056.3,7.5L2061.5,12.7L2061.5,95.5L2056.3,100.7L2045.9,100.7L2035.6,111.0L1983.9,111.0L1973.5,100.7L1963.2,100.7L1937.3,74.8L1937.3,54.1L1947.6,43.8L1947.6,33.4L1958.0,23.1ZM1745.9,255.9L1787.3,255.9L1833.8,302.4L1833.8,395.6L1823.5,405.9L1823.5,416.3L1813.1,426.6L1813.1,436.9L1751.1,499.0L1751.1,530.1L1720.0,561.1L1720.0,571.5L1663.1,628.4L1652.8,628.4L1647.6,633.5L1647.6,643.9L1642.4,649.1L1632.1,649.1L1621.7,659.4L1611.4,659.4L1601.0,669.8L1570.0,669.8L1559.6,680.1L1549.3,680.1L1538.9,669.8L1518.2,669.8L1513.1,664.6L1513.1,654.2L1502.7,643.9L1502.7,602.5L1518.2,587.0L1538.9,587.0L1549.3,576.6L1570.0,576.6L1580.3,566.3L1590.7,566.3L1647.6,509.4L1647.6,468.0L1657.9,457.6L1657.9,447.3L1720.0,385.2L1720.0,343.8L1709.7,333.5L1709.7,302.4L1720.0,292.1L1720.0,281.7Z"/>
<path class="di" d="M1337.2,343.8L1342.3,338.7L1373.4,338.7L1383.7,349.0L1425.1,349.0L1430.3,354.2L1430.3,364.5L1440.6,374.9L1440.6,395.6L1445.8,400.7L1507.9,400.7L1518.2,411.1L1528.6,411.1L1538.9,421.4L1570.0,421.4L1580.3,431.8L1611.4,431.8L1621.7,421.4L1632.1,421.4L1642.4,411.1L1663.1,411.1L1673.5,400.7L1745.9,400.7L1751.1,405.9L1751.1,447.3L1694.1,504.2L1683.8,504.2L1678.6,509.4L1678.6,519.7L1663.1,535.2L1652.8,535.2L1611.4,576.6L1601.0,576.6L1590.7,587.0L1570.0,587.0L1559.6,597.3L1549.3,597.3L1538.9,607.7L1445.8,607.7L1435.5,618.0L1383.7,618.0L1373.4,607.7L1301.0,607.7L1290.6,597.3L1259.6,597.3L1244.1,581.8L1244.1,571.5L1233.7,561.1L1233.7,519.7L1228.5,514.6L1207.8,514.6L1202.7,519.7L1202.7,550.8L1197.5,555.9L1166.4,555.9L1156.1,545.6L1145.8,545.6L1140.6,540.4L1140.6,509.4L1150.9,499.0L1145.8,493.9L1135.4,493.9L1130.2,488.7L1130.2,457.6L1135.4,452.5L1176.8,452.5L1182.0,457.6L1182.0,468.0L1187.1,473.2L1197.5,473.2L1202.7,468.0L1202.7,436.9L1218.2,421.4L1249.2,421.4L1259.6,431.8L1269.9,421.4L1301.0,421.4L1311.3,431.8L1316.5,426.6L1316.5,416.3L1321.7,411.1L1342.3,411.1L1347.5,405.9L1347.5,385.2L1337.2,374.9Z"/>
<path class="wcbcf" d="M1745.9,255.9L1787.3,255.9L1833.8,302.4L1833.8,374.9L1828.7,380.0L1808.0,380.0L1797.6,390.4L1766.6,390.4L1745.9,369.7L1725.2,369.7L1720.0,364.5L1720.0,333.5L1730.4,323.1L1730.4,312.8L1720.0,302.4L1720.0,281.7Z"/>
<path class="dicf" d="M1704.5,400.7L1745.9,400.7L1751.1,405.9L1751.1,447.3L1694.1,504.2L1683.8,504.2L1678.6,509.4L1678.6,519.7L1663.1,535.2L1652.8,535.2L1611.4,576.6L1601.0,576.6L1590.7,587.0L1570.0,587.0L1559.6,597.3L1549.3,597.3L1538.9,607.7L1507.9,607.7L1502.7,602.5L1518.2,587.0L1538.9,587.0L1549.3,576.6L1570.0,576.6L1580.3,566.3L1590.7,566.3L1647.6,509.4L1647.6,468.0L1657.9,457.6L1657.9,447.3Z"/>
<g class="grid"><line x1="1381.4" y1="18.2" x2="1381.4" y2="690.2"/><line x1="1795.0" y1="18.2" x2="1795.0" y2="690.2"/><line x1="1053.8" y1="646.1" x2="2047.9" y2="646.1"/><line x1="1053.8" y1="439.3" x2="2047.9" y2="439.3"/><line x1="1053.8" y1="232.5" x2="2047.9" y2="232.5"/><line x1="1053.8" y1="25.7" x2="2047.9" y2="25.7"/></g>
<path class="impact" d="M1621.7,38.6L1745.9,38.6L1756.2,48.9L1787.3,48.9L1797.6,59.3L1808.0,59.3L1818.3,69.6L1828.7,69.6L1839.0,80.0L1849.4,80.0L1906.3,136.9L1906.3,147.2L1916.6,157.6L1916.6,199.0L1927.0,209.3L1916.6,219.7L1916.6,250.7L1906.3,261.1L1906.3,281.7L1895.9,292.1L1895.9,312.8L1901.1,318.0L1911.4,307.6L1921.8,307.6L1937.3,323.1L1937.3,333.5L1947.6,343.8L1921.8,369.7L1911.4,369.7L1906.3,374.9L1906.3,385.2L1901.1,390.4L1839.0,390.4L1823.5,405.9L1823.5,416.3L1813.1,426.6L1813.1,436.9L1751.1,499.0L1751.1,530.1L1720.0,561.1L1720.0,571.5L1663.1,628.4L1652.8,628.4L1647.6,633.5L1647.6,643.9L1642.4,649.1L1632.1,649.1L1621.7,659.4L1611.4,659.4L1601.0,669.8L1570.0,669.8L1559.6,680.1L1549.3,680.1L1538.9,669.8L1518.2,669.8L1513.1,664.6L1513.1,654.2L1502.7,643.9L1502.7,612.8L1497.6,607.7L1445.8,607.7L1435.5,618.0L1383.7,618.0L1373.4,607.7L1301.0,607.7L1290.6,597.3L1259.6,597.3L1244.1,581.8L1244.1,571.5L1233.7,561.1L1233.7,519.7L1228.5,514.6L1207.8,514.6L1202.7,519.7L1202.7,550.8L1197.5,555.9L1166.4,555.9L1156.1,545.6L1145.8,545.6L1140.6,540.4L1140.6,509.4L1150.9,499.0L1145.8,493.9L1135.4,493.9L1130.2,488.7L1130.2,457.6L1135.4,452.5L1176.8,452.5L1182.0,457.6L1182.0,468.0L1187.1,473.2L1197.5,473.2L1202.7,468.0L1202.7,436.9L1218.2,421.4L1249.2,421.4L1259.6,431.8L1269.9,421.4L1301.0,421.4L1311.3,431.8L1316.5,426.6L1316.5,416.3L1321.7,411.1L1342.3,411.1L1347.5,405.9L1347.5,385.2L1337.2,374.9L1337.2,343.8L1342.3,338.7L1373.4,338.7L1383.7,349.0L1425.1,349.0L1430.3,354.2L1430.3,364.5L1440.6,374.9L1440.6,395.6L1445.8,400.7L1507.9,400.7L1518.2,411.1L1528.6,411.1L1538.9,421.4L1570.0,421.4L1580.3,431.8L1611.4,431.8L1621.7,421.4L1632.1,421.4L1637.2,416.3L1637.2,405.9L1632.1,400.7L1601.0,400.7L1590.7,390.4L1570.0,390.4L1559.6,380.0L1549.3,380.0L1538.9,369.7L1528.6,369.7L1451.0,292.1L1451.0,281.7L1440.6,271.4L1440.6,250.7L1430.3,240.4L1430.3,188.6L1440.6,178.3L1440.6,157.6L1451.0,147.2L1451.0,136.9L1507.9,80.0L1518.2,80.0L1528.6,69.6L1538.9,69.6L1549.3,59.3L1570.0,59.3L1580.3,48.9L1611.4,48.9Z"/>
<path class="hat" fill="url(#hslashB)" d="M1761.4,126.5L1766.6,121.4L1771.7,126.5L1771.7,136.9L1766.6,142.1L1761.4,136.9ZM1782.1,188.6L1787.3,183.4L1792.4,188.6L1787.3,193.8ZM1813.1,188.6L1818.3,183.4L1823.5,188.6L1823.5,199.0L1818.3,204.1L1813.1,199.0ZM1787.3,214.5L1797.6,214.5L1802.8,219.7L1792.4,230.0L1792.4,250.7L1787.3,255.9L1776.9,255.9L1761.4,240.4L1761.4,230.0L1766.6,224.8L1776.9,224.8ZM1637.2,281.7L1642.4,276.6L1652.8,276.6L1657.9,281.7L1652.8,286.9L1642.4,286.9ZM1616.5,292.1L1621.7,286.9L1632.1,286.9L1637.2,292.1L1621.7,307.6L1616.5,302.4ZM1575.2,312.8L1580.3,307.6L1611.4,307.6L1616.5,312.8L1611.4,318.0L1580.3,318.0ZM1461.3,333.5L1466.5,328.3L1476.9,338.7L1497.6,338.7L1513.1,354.2L1502.7,364.5L1502.7,374.9L1497.6,380.0L1487.2,380.0L1476.9,390.4L1456.2,390.4L1451.0,385.2L1471.7,364.5L1461.3,354.2ZM1482.0,364.5L1487.2,359.3L1492.4,364.5L1487.2,369.7Z"/>
<path class="hat" fill="url(#hplusB)" d="M1771.7,147.2L1776.9,142.1L1782.1,147.2L1776.9,152.4ZM1782.1,167.9L1787.3,162.8L1792.4,167.9L1792.4,188.6L1787.3,193.8L1782.1,188.6ZM1813.1,188.6L1818.3,183.4L1833.8,199.0L1828.7,204.1L1818.3,204.1L1813.1,199.0ZM1782.1,219.7L1787.3,214.5L1808.0,214.5L1823.5,230.0L1823.5,250.7L1833.8,261.1L1833.8,271.4L1839.0,276.6L1849.4,276.6L1854.5,281.7L1839.0,297.3L1828.7,297.3L1823.5,292.1L1823.5,281.7L1818.3,276.6L1808.0,276.6L1787.3,255.9L1776.9,255.9L1771.7,250.7L1782.1,240.4ZM1626.9,292.1L1632.1,286.9L1663.1,286.9L1668.3,292.1L1668.3,302.4L1663.1,307.6L1632.1,307.6L1626.9,302.4ZM1792.4,302.4L1797.6,297.3L1818.3,297.3L1823.5,302.4L1813.1,312.8L1823.5,323.1L1813.1,333.5L1813.1,343.8L1808.0,349.0L1802.8,343.8L1802.8,312.8ZM1528.6,307.6L1601.0,307.6L1606.2,312.8L1590.7,328.3L1570.0,328.3L1559.6,338.7L1518.2,338.7L1513.1,333.5L1513.1,323.1ZM1451.0,343.8L1456.2,338.7L1461.3,343.8L1456.2,349.0Z"/>
<path class="ring" d="M1674.6,131.9L1678.1,131.9L1681.5,132.0L1684.9,132.2L1688.3,132.4L1691.7,132.7L1695.1,133.1L1698.5,133.5L1701.8,134.0L1705.2,134.6L1708.5,135.3L1711.7,136.0L1715.0,136.7L1718.2,137.6L1721.4,138.5L1724.5,139.4L1727.6,140.5L1730.6,141.5L1733.6,142.7L1736.6,143.9L1739.5,145.2L1742.3,146.5L1745.1,147.9L1747.9,149.3L1750.5,150.8L1753.2,152.3L1755.7,153.9L1758.2,155.5L1760.6,157.2L1763.0,159.0L1765.2,160.8L1767.4,162.6L1769.6,164.5L1771.6,166.4L1773.6,168.3L1775.5,170.3L1777.4,172.3L1779.1,174.4L1780.8,176.5L1782.4,178.6L1783.9,180.8L1785.3,183.0L1786.7,185.2L1788.0,187.4L1789.1,189.7L1790.2,192.0L1791.2,194.3L1792.2,196.7L1793.0,199.0L1793.8,201.4L1794.5,203.7L1795.0,206.1L1795.5,208.5L1796.0,211.0L1796.3,213.4L1796.5,215.8L1796.7,218.2L1796.8,220.7L1796.8,223.1L1796.7,225.5L1796.5,227.9L1796.3,230.4L1795.9,232.8L1795.5,235.2L1795.0,237.6L1794.4,240.0L1793.8,242.4L1793.1,244.7L1792.2,247.1L1791.4,249.4L1790.4,251.7L1789.4,254.0L1788.3,256.3L1787.1,258.6L1785.8,260.8L1784.5,263.0L1783.1,265.2L1781.7,267.3L1780.1,269.4L1778.5,271.5L1776.9,273.6L1775.2,275.6L1773.4,277.6L1771.5,279.5L1769.6,281.4L1767.7,283.3L1765.7,285.1L1763.6,286.9L1761.5,288.7L1759.3,290.4L1757.1,292.1L1754.8,293.7L1752.5,295.2L1750.1,296.8L1747.7,298.3L1745.3,299.7L1742.8,301.1L1740.2,302.4L1737.7,303.7L1735.0,304.9L1732.4,306.1L1729.7,307.2L1727.0,308.3L1724.3,309.3L1721.5,310.3L1718.7,311.2L1715.9,312.0L1713.0,312.8L1710.2,313.6L1707.3,314.2L1704.4,314.9L1701.4,315.4L1698.5,315.9L1695.6,316.4L1692.6,316.8L1689.6,317.1L1686.6,317.4L1683.6,317.6L1680.6,317.7L1677.6,317.8L1674.6,317.8L1671.6,317.8L1668.6,317.7L1665.6,317.6L1662.7,317.4L1659.7,317.1L1656.7,316.8L1653.7,316.4L1650.8,315.9L1647.8,315.4L1644.9,314.9L1642.0,314.2L1639.1,313.6L1636.3,312.8L1633.4,312.0L1630.6,311.2L1627.8,310.3L1625.0,309.3L1622.3,308.3L1619.6,307.2L1616.9,306.1L1614.2,304.9L1611.6,303.7L1609.1,302.4L1606.5,301.1L1604.0,299.7L1601.6,298.3L1599.2,296.8L1596.8,295.2L1594.5,293.7L1592.2,292.1L1590.0,290.4L1587.8,288.7L1585.7,286.9L1583.6,285.1L1581.6,283.3L1579.6,281.4L1577.7,279.5L1575.9,277.6L1574.1,275.6L1572.4,273.6L1570.7,271.5L1569.2,269.4L1567.6,267.3L1566.2,265.2L1564.8,263.0L1563.5,260.8L1562.2,258.6L1561.0,256.3L1559.9,254.0L1558.9,251.7L1557.9,249.4L1557.0,247.1L1556.2,244.7L1555.5,242.4L1554.8,240.0L1554.3,237.6L1553.8,235.2L1553.4,232.8L1553.0,230.4L1552.8,227.9L1552.6,225.5L1552.5,223.1L1552.5,220.7L1552.6,218.2L1552.7,215.8L1553.0,213.4L1553.3,211.0L1553.7,208.5L1554.2,206.1L1554.8,203.7L1555.5,201.4L1556.3,199.0L1557.1,196.7L1558.0,194.3L1559.0,192.0L1560.1,189.7L1561.3,187.4L1562.6,185.2L1563.9,183.0L1565.4,180.8L1566.9,178.6L1568.5,176.5L1570.2,174.4L1571.9,172.3L1573.7,170.3L1575.6,168.3L1577.6,166.4L1579.7,164.5L1581.8,162.6L1584.0,160.8L1586.3,159.0L1588.7,157.2L1591.1,155.5L1593.6,153.9L1596.1,152.3L1598.7,150.8L1601.4,149.3L1604.2,147.9L1606.9,146.5L1609.8,145.2L1612.7,143.9L1615.6,142.7L1618.6,141.5L1621.7,140.5L1624.8,139.4L1627.9,138.5L1631.1,137.6L1634.3,136.7L1637.5,136.0L1640.8,135.3L1644.1,134.6L1647.4,134.0L1650.8,133.5L1654.2,133.1L1657.5,132.7L1660.9,132.4L1664.4,132.2L1667.8,132.0L1671.2,131.9Z"/>
<path class="ring" d="M1674.6,38.9L1682.1,38.9L1689.5,39.2L1696.9,39.5L1704.3,40.1L1711.7,40.7L1719.0,41.5L1726.3,42.5L1733.5,43.6L1740.7,44.8L1747.8,46.2L1754.8,47.8L1761.7,49.4L1768.5,51.2L1775.3,53.2L1781.9,55.2L1788.4,57.4L1794.8,59.8L1801.1,62.2L1807.3,64.8L1813.3,67.5L1819.2,70.3L1824.9,73.2L1830.5,76.3L1836.0,79.4L1841.3,82.7L1846.4,86.1L1851.4,89.5L1856.2,93.1L1860.8,96.7L1865.3,100.5L1869.6,104.3L1873.8,108.2L1877.7,112.2L1881.5,116.3L1885.1,120.4L1888.5,124.6L1891.8,128.9L1894.8,133.3L1897.7,137.7L1900.4,142.1L1902.9,146.6L1905.3,151.1L1907.4,155.7L1909.4,160.4L1911.2,165.0L1912.8,169.7L1914.2,174.5L1915.5,179.2L1916.6,184.0L1917.5,188.8L1918.2,193.6L1918.8,198.5L1919.2,203.3L1919.4,208.2L1919.5,213.0L1919.4,217.9L1919.1,222.7L1918.7,227.5L1918.1,232.4L1917.3,237.2L1916.4,242.0L1915.4,246.8L1914.1,251.5L1912.8,256.2L1911.3,260.9L1909.6,265.6L1907.8,270.3L1905.9,274.9L1903.8,279.4L1901.6,283.9L1899.2,288.4L1896.7,292.8L1894.1,297.2L1891.4,301.6L1888.5,305.8L1885.6,310.0L1882.5,314.2L1879.3,318.3L1875.9,322.3L1872.5,326.3L1869.0,330.2L1865.3,334.0L1861.6,337.7L1857.7,341.4L1853.8,345.0L1849.7,348.5L1845.6,352.0L1841.3,355.3L1837.0,358.6L1832.6,361.8L1828.1,364.9L1823.6,367.9L1818.9,370.8L1814.2,373.6L1809.4,376.4L1804.6,379.0L1799.7,381.5L1794.7,384.0L1789.6,386.3L1784.5,388.6L1779.4,390.7L1774.2,392.7L1768.9,394.7L1763.6,396.5L1758.3,398.2L1752.9,399.8L1747.5,401.3L1742.0,402.7L1736.5,404.0L1731.0,405.2L1725.4,406.3L1719.8,407.2L1714.2,408.1L1708.6,408.8L1703.0,409.4L1697.3,409.9L1691.7,410.3L1686.0,410.6L1680.3,410.8L1674.6,410.8L1669.0,410.8L1663.3,410.6L1657.6,410.3L1652.0,409.9L1646.3,409.4L1640.7,408.8L1635.0,408.1L1629.4,407.2L1623.9,406.3L1618.3,405.2L1612.8,404.0L1607.3,402.7L1601.8,401.3L1596.4,399.8L1591.0,398.2L1585.7,396.5L1580.4,394.7L1575.1,392.7L1569.9,390.7L1564.7,388.6L1559.6,386.3L1554.6,384.0L1549.6,381.5L1544.7,379.0L1539.8,376.4L1535.1,373.6L1530.3,370.8L1525.7,367.9L1521.1,364.9L1516.7,361.8L1512.3,358.6L1507.9,355.3L1503.7,352.0L1499.6,348.5L1495.5,345.0L1491.6,341.4L1487.7,337.7L1484.0,334.0L1480.3,330.2L1476.8,326.3L1473.3,322.3L1470.0,318.3L1466.8,314.2L1463.7,310.0L1460.7,305.8L1457.9,301.6L1455.1,297.2L1452.5,292.8L1450.1,288.4L1447.7,283.9L1445.5,279.4L1443.4,274.9L1441.5,270.3L1439.7,265.6L1438.0,260.9L1436.5,256.2L1435.1,251.5L1433.9,246.8L1432.9,242.0L1432.0,237.2L1431.2,232.4L1430.6,227.5L1430.2,222.7L1429.9,217.9L1429.8,213.0L1429.9,208.2L1430.1,203.3L1430.5,198.5L1431.0,193.6L1431.8,188.8L1432.7,184.0L1433.8,179.2L1435.0,174.5L1436.5,169.7L1438.1,165.0L1439.9,160.4L1441.9,155.7L1444.0,151.1L1446.4,146.6L1448.9,142.1L1451.6,137.7L1454.5,133.3L1457.5,128.9L1460.8,124.6L1464.2,120.4L1467.8,116.3L1471.6,112.2L1475.5,108.2L1479.7,104.3L1484.0,100.5L1488.4,96.7L1493.1,93.1L1497.9,89.5L1502.9,86.1L1508.0,82.7L1513.3,79.4L1518.8,76.3L1524.3,73.2L1530.1,70.3L1536.0,67.5L1542.0,64.8L1548.2,62.2L1554.4,59.8L1560.9,57.4L1567.4,55.2L1574.0,53.2L1580.7,51.2L1587.6,49.4L1594.5,47.8L1601.5,46.2L1608.6,44.8L1615.8,43.6L1623.0,42.5L1630.3,41.5L1637.6,40.7L1644.9,40.1L1652.3,39.5L1659.8,39.2L1667.2,38.9Z"/>
<circle cx="1674.6" cy="224.8" r="17.3" fill="#8b0000"/>
<text class="ringlab"><textPath href="#p500">500 km</textPath></text>
<text class="ringlab"><textPath href="#p1000">1000 km</textPath></text>
<text class="feat"><textPath href="#pWCB">Warm Conveyor Belt <tspan dx="3.5">(WCB)</tspan></textPath></text>
<text class="feat"><textPath href="#pDI">Dry Intrusion <tspan dx="1.8">(DI)</tspan></textPath></text>
<text class="feat"><textPath href="#pCF" startOffset="5.5">Cold Front (CF)</textPath></text>
<text class="imp" x="1158.2" y="361.5">Impact</text>
<text class="imp" x="1157" y="397">Area 01</text>
<text class="title" x="1059.6" y="68.6">(b)</text>

</g>
<rect class="frame" x="1053.8" y="18.2" width="994.1" height="672.0"/>
<text class="tick" text-anchor="end" x="1040.9" y="33.9">50°N</text><text class="tick" text-anchor="end" x="1040.9" y="240.7">40°N</text><text class="tick" text-anchor="end" x="1040.9" y="447.5">30°N</text><text class="tick" text-anchor="end" x="1040.9" y="654.3">20°N</text><text class="tick" text-anchor="middle" x="1381.3" y="726.4">10°W</text><text class="tick" text-anchor="middle" x="1794.9" y="726.4">10°E</text>
</g>
</svg>
</body></html>
